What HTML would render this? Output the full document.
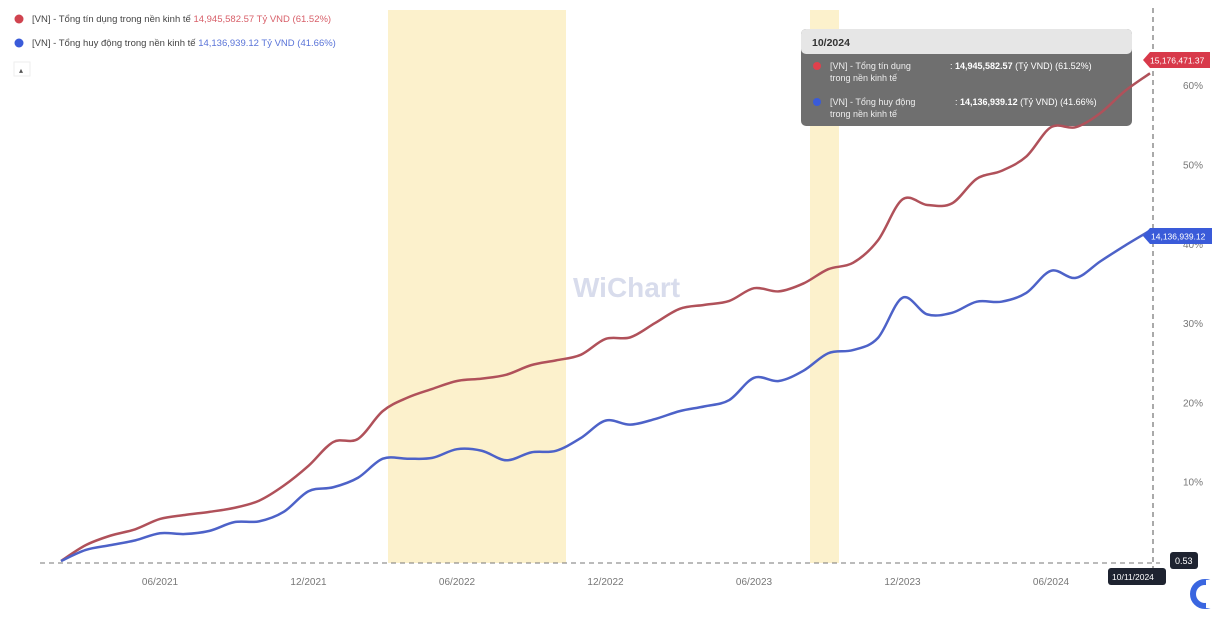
<!DOCTYPE html>
<html><head><meta charset="utf-8"><style>
body{margin:0;background:#fff;font-family:"Liberation Sans","Noto Sans CJK SC",sans-serif}
svg{display:block}
</style></head><body>
<svg id="c" width="1226" height="618">
<rect x="388" y="10" width="178" height="553" fill="#fcf1cc"/>
<rect x="810" y="10" width="29" height="553" fill="#fcf1cc"/>
<g id="grid"></g>
<text x="573" y="297" font-size="28" font-weight="bold" fill="#d8dcec">WiChart</text>
<g>
<rect x="801" y="29" width="331" height="97" rx="5" fill="#6f6f6f"/>
<rect x="801" y="29" width="331" height="25" rx="5" fill="#e6e6e6"/>
<text x="812" y="46" font-size="10.5" font-weight="bold" fill="#333">10/2024</text>
<circle cx="817" cy="66" r="4" fill="#e0404c"/>
<text x="830" y="69" font-size="9" fill="#eee">[VN] - Tổng tín dụng</text>
<text x="830" y="81" font-size="9" fill="#eee">trong nền kinh tế</text>
<text x="950" y="69" font-size="9" fill="#fff">: <tspan font-weight="bold">14,945,582.57</tspan> (Tỷ VND) (61.52%)</text>
<circle cx="817" cy="102" r="4" fill="#3a5bd9"/>
<text x="830" y="105" font-size="9" fill="#eee">[VN] - Tổng huy động</text>
<text x="830" y="117" font-size="9" fill="#eee">trong nền kinh tế</text>
<text x="955" y="105" font-size="9" fill="#fff">: <tspan font-weight="bold">14,136,939.12</tspan> (Tỷ VND) (41.66%)</text>
</g>
<g id="series"></g>
<line x1="1153" y1="8" x2="1153" y2="570" stroke="#555" stroke-dasharray="5,4"/>
<line x1="40" y1="563" x2="1160" y2="563" stroke="#777" stroke-dasharray="5,4"/>
<g font-size="9.5">
<circle cx="19" cy="19" r="4.5" fill="#d0434f"/>
<text x="32" y="22" fill="#444">[VN] - Tổng tín dụng trong nền kinh tế <tspan fill="#d8606a">14,945,582.57 Tỷ VND (61.52%)</tspan></text>
<circle cx="19" cy="43" r="4.5" fill="#3a5bd9"/>
<text x="32" y="46" fill="#444">[VN] - Tổng huy động trong nền kinh tế <tspan fill="#5a74d8">14,136,939.12 Tỷ VND (41.66%)</tspan></text>
<rect x="14" y="62" width="16" height="14" fill="#fff" stroke="#eee"/>
<text x="19" y="73" font-size="8" fill="#555">▴</text>
</g>
<g><path d="M1143,60 L1150,52 L1210,52 L1210,68 L1150,68 Z" fill="#d8394a"/><text x="1150" y="63.5" font-size="8.5" fill="#fff">15,176,471.37</text></g>
<g><path d="M1143,236 L1150,228 L1212,228 L1212,244 L1150,244 Z" fill="#3a5bd9"/><text x="1151" y="239.5" font-size="8.5" fill="#fff">14,136,939.12</text></g>
<g><rect x="1170" y="552" width="28" height="17" rx="3" fill="#1e2330"/><text x="1175" y="564" font-size="9" fill="#fff">0.53</text></g>
<g><rect x="1108" y="568" width="58" height="17" rx="3" fill="#1e2330"/><text x="1112" y="580" font-size="8.5" fill="#fff">10/11/2024</text></g>
<g><circle cx="1205" cy="594" r="12" fill="none" stroke="#3a66e0" stroke-width="6"/><rect x="1206" y="580" width="20" height="28" fill="#fff"/></g>
</svg>
<script>
const months=[1,2,3,4,5,6,7,8,9,10,11,12,13,14,15,16,17,18,19,20,21,22,23,24,25,26,27,28,29,30,31,32,33,34,35,36,37,38,39,40,41,42,43,44,45];
const creditPct=[0,2,3.2,4,5.3,5.8,6.2,6.7,7.6,9.5,12,15,15.4,18.9,20.6,21.7,22.7,23,23.5,24.7,25.3,26,28,28.2,30,31.8,32.3,32.8,34.4,34,35,36.8,37.6,40.4,45.6,44.9,45.1,48.2,49.2,51,54.7,54.7,56.5,59.3,61.5];
const depositPct=[0,1.4,2,2.6,3.5,3.4,3.8,4.9,5,6.2,8.8,9.3,10.5,12.9,12.9,13,14.1,13.9,12.7,13.7,13.9,15.5,17.7,17.2,17.9,18.9,19.5,20.3,23.1,22.7,24,26.2,26.6,28.1,33.2,31.1,31.3,32.7,32.7,33.8,36.6,35.7,37.8,39.8,41.66];
const yTicks=[10,20,30,40,50,60];
const xTickMonths=[5,11,17,23,29,35,41];
const xTickLabels=["06/2021","12/2021","06/2022","12/2022","06/2023","12/2023","06/2024"];
const NS="http://www.w3.org/2000/svg";
const x=m=>160+(m-5)*24.75;
const y=v=>561-v*7.93;
const grid=document.getElementById('grid');
yTicks.forEach(t=>{
 const tx=document.createElementNS(NS,'text');
 tx.setAttribute('x',1183);tx.setAttribute('y',y(t)+4);tx.setAttribute('font-size','10');tx.setAttribute('fill','#777');
 tx.textContent=t+'%';
 
 
 grid.appendChild(tx);
});
xTickMonths.forEach((m,i)=>{
 const tx=document.createElementNS(NS,'text');
 tx.setAttribute('x',x(m));tx.setAttribute('y',585);tx.setAttribute('font-size','10');tx.setAttribute('fill','#777');tx.setAttribute('text-anchor','middle');
 tx.textContent=xTickLabels[i];
 
 
 grid.appendChild(tx);
});
function path(vals){
 const p=months.map((m,i)=>[x(m),y(vals[i])]);
 let d='M'+p[0][0]+','+p[0][1];
 for(let i=0;i<p.length-1;i++){
  const p0=p[Math.max(i-1,0)],p1=p[i],p2=p[i+1],p3=p[Math.min(i+2,p.length-1)];
  const c1=[p1[0]+(p2[0]-p0[0])/6,p1[1]+(p2[1]-p0[1])/6],c2=[p2[0]-(p3[0]-p1[0])/6,p2[1]-(p3[1]-p1[1])/6];
  d+=' C'+c1+' '+c2+' '+p2;
 }
 return d;
}
const s=document.getElementById('series');
[[creditPct,'#b0515a','credit-line'],[depositPct,'#4d62c8','deposit-line']].forEach(([v,c,n])=>{
 const el=document.createElementNS(NS,'path');
 el.setAttribute('d',path(v));el.setAttribute('fill','none');el.setAttribute('stroke',c);el.setAttribute('stroke-width','2.5');
 
 
 s.appendChild(el);
});
</script>
</body></html>
